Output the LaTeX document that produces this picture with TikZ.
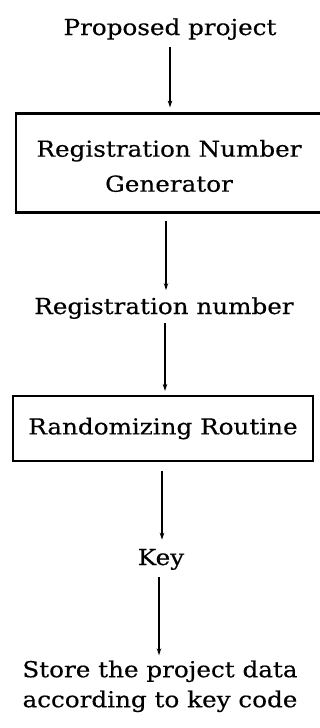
\documentclass[tikz,border=0pt]{standalone}
\usepackage{fontspec}
\setmainfont[FakeStretch=1.12,FakeBold=0.4]{DejaVu Serif}
\usetikzlibrary{arrows.meta}
\begin{document}
\begin{tikzpicture}[x=1pt,y=1pt,
  txt/.style={font=\fontsize{22}{30}\selectfont, inner sep=0pt, align=center},
  procbox/.style={draw, line width=2.2pt, inner sep=0pt, align=center,
    font=\fontsize{22}{35}\selectfont},
  flow/.style={-{Stealth[length=7pt,width=4.5pt]}, line width=1.6pt}]
\useasboundingbox (0,0) rectangle (320,-728);
% stages of the flow, top to bottom
\node[txt, anchor=base] (prop) at (170,-35) {Proposed project};
\node[procbox, minimum width=306pt, minimum height=99pt] (gen) at (169,-163)
  {\rule{0pt}{22.7pt}Registration Number\\Generator};
\node[txt, anchor=base] (regnum) at (164,-314) {Registration number};
\node[procbox, minimum width=300pt, minimum height=65pt] (rand) at (163,-428.5)
  {Randomizing Routine};
\node[txt, anchor=base] (key) at (161,-565) {Key};
\node[txt, anchor=north] (store) at (160,-660.3) {Store the project data\\according to key code};
% connectors
\draw[flow] ([yshift=-7pt]prop.south -| 170,0) -- ([yshift=5pt]gen.north -| 170,0);
\draw[flow] ([yshift=-7.5pt]gen.south -| 166,0) -- ([yshift=7pt]regnum.north -| 166,0);
\draw[flow] ([yshift=-4pt]regnum.south -| 165,0) -- ([yshift=4pt]rand.north -| 165,0);
\draw[flow] ([yshift=-9pt]rand.south -| 162,0) -- ([yshift=9pt]key.north -| 162,0);
\draw[flow] ([yshift=-7pt]key.south -| 159,0) -- ([yshift=5pt]store.north -| 159,0);
\end{tikzpicture}
\end{document}
